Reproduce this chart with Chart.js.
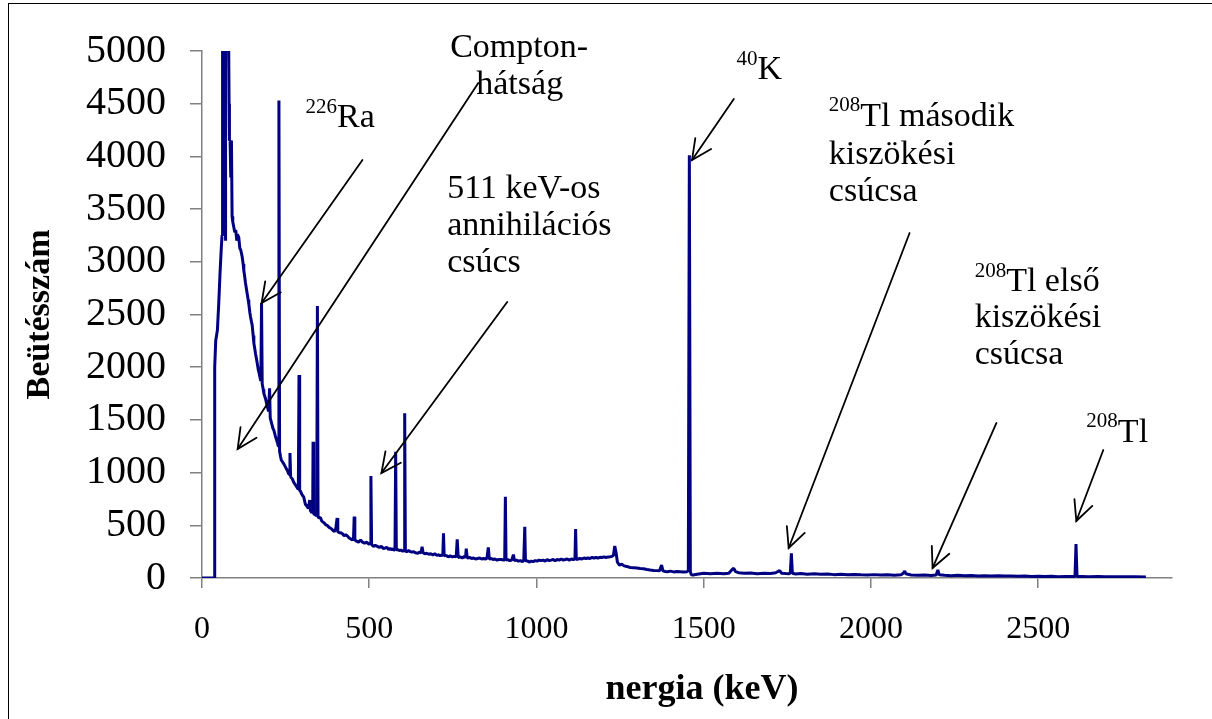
<!DOCTYPE html>
<html>
<head>
<meta charset="utf-8">
<script src="https://cdn.jsdelivr.net/npm/chart.js@4.4.0/dist/chart.umd.min.js"></script>
<style>
  html, body { margin: 0; padding: 0; background: #fff; }
  #wrap { width: 1212px; height: 719px; position: relative; }
</style>
</head>
<body>
<div id="wrap"><canvas id="spectrum"></canvas></div>
<script>
// Gamma spectrum: energy (keV) and counts
const energy = [
    0, 36, 38, 41, 46, 50, 54, 58, 60, 61,
    62, 63, 64, 65, 66, 67, 68, 69, 70, 71,
    72, 73, 74, 75, 76, 77, 78, 79, 80, 81,
    82, 84, 86, 88, 90, 92, 95, 98, 101, 104, 106,
    110, 113, 116, 120, 123, 125, 128, 130, 133, 135,
    138, 140, 143, 145, 148, 150, 153, 155, 160, 165,
    168, 171, 175, 176, 178, 180, 183, 185, 190, 195,
    199, 202, 204, 208, 212, 215, 219, 223, 226, 228,
    230, 232, 235, 237, 241, 245, 250, 255, 259, 262,
    263, 265, 270, 274, 278, 282, 286, 288, 290, 292,
    295, 299, 304, 309, 314, 318, 322, 324, 328, 331,
    332, 334, 338, 343, 345, 347, 350, 354, 358, 362,
    366, 370, 374, 380, 386, 392, 396, 400, 404, 406,
    410, 414, 420, 425, 430, 434, 440, 445, 450, 453,
    455, 457, 462, 468, 474, 480, 486, 492, 496, 500,
    503, 505, 507, 512, 518, 524, 530, 536, 542, 548,
    553, 558, 562, 566, 570, 574, 577, 579, 581, 585,
    590, 595, 600, 604, 606, 608, 612, 618, 623, 628,
    633, 638, 645, 650, 655, 658, 661, 666, 672, 678,
    684, 690, 696, 702, 708, 712, 716, 720, 722, 724,
    730, 736, 742, 748, 754, 760, 763, 766, 772, 778,
    784, 788, 790, 793, 800, 806, 812, 818, 824, 830,
    836, 842, 848, 852, 856, 859, 865, 870, 876, 882,
    888, 894, 902, 905, 907, 909, 914, 920, 926, 931,
    934, 940, 946, 952, 958, 962, 965, 967, 972, 978,
    984, 990, 996, 1002, 1008, 1014, 1020, 1026, 1032, 1038,
    1044, 1050, 1056, 1062, 1068, 1074, 1080, 1086, 1092, 1098,
    1104, 1110, 1115, 1117, 1119, 1124, 1130, 1136, 1142, 1148,
    1154, 1160, 1166, 1172, 1178, 1184, 1190, 1196, 1202, 1208,
    1214, 1220, 1226, 1230, 1234, 1238, 1242, 1248, 1255, 1262,
    1270, 1280, 1290, 1300, 1310, 1320, 1330, 1340, 1350, 1360,
    1368, 1374, 1378, 1385, 1392, 1400, 1410, 1420, 1430, 1440,
    1450, 1454, 1457, 1460, 1463, 1468, 1480, 1490, 1500, 1520,
    1540, 1560, 1575, 1585, 1590, 1595, 1605, 1620, 1640, 1660,
    1680, 1700, 1715, 1727, 1733, 1745, 1755, 1759, 1762, 1765,
    1775, 1790, 1810, 1830, 1850, 1870, 1890, 1910, 1930, 1950,
    1970, 1990, 2010, 2030, 2050, 2070, 2090, 2098, 2101, 2104,
    2120, 2140, 2160, 2180, 2195, 2200, 2204, 2220, 2240, 2260,
    2280, 2300, 2320, 2340, 2360, 2380, 2400, 2420, 2440, 2460,
    2480, 2500, 2520, 2540, 2560, 2580, 2600, 2610, 2613, 2616,
    2630, 2650, 2680, 2700, 2730, 2760, 2790, 2822
];
const counts = [
    0, 0, 2000, 2250, 2350, 2600, 2900, 3150, 3250, 5500,
    6000, 5800, 6000, 5500, 4600, 3900, 3250, 3500, 3200, 4800,
    6000, 5600, 6000, 5800, 6000, 5500, 6000, 5600, 5200, 4500,
    4150, 4150, 3800, 4150, 3430, 3380, 3330, 3280, 3300, 3200, 3260,
    3230, 3130, 3110, 3050, 2980, 2920, 2850, 2800, 2740, 2700,
    2640, 2600, 2520, 2480, 2430, 2400, 2300, 2230, 2130, 2040,
    1980, 1940, 1880, 1870, 2610, 1840, 1790, 1750, 1700, 1630,
    1580, 1800, 1520, 1470, 1420, 1400, 1350, 1310, 1280, 1250,
    4530, 1200, 1150, 1120, 1100, 1080, 1050, 1020, 990, 980,
    1186, 960, 940, 910, 890, 870, 850, 840, 1926, 830,
    820, 790, 770, 700, 680, 660, 740, 640, 620, 630,
    1293, 610, 600, 590, 2581, 580, 570, 575, 540, 530,
    520, 505, 500, 480, 470, 450, 440, 470, 569, 440,
    430, 430, 420, 400, 410, 400, 380, 370, 360, 380,
    582, 360, 350, 340, 360, 340, 330, 340, 330, 320,
    330, 968, 320, 300, 310, 300, 290, 300, 280, 285,
    290, 270, 280, 270, 275, 265, 270, 1198, 265, 270,
    260, 265, 255, 260, 1562, 255, 250, 260, 250, 245,
    250, 240, 235, 245, 240, 297, 240, 230, 235, 225,
    230, 220, 230, 215, 220, 210, 220, 212, 424, 210,
    215, 200, 210, 200, 205, 200, 367, 195, 200, 190,
    205, 195, 278, 190, 195, 185, 190, 180, 185, 190,
    180, 185, 180, 190, 291, 180, 185, 175, 180, 170,
    175, 175, 170, 175, 771, 170, 175, 165, 170, 222,
    165, 170, 160, 165, 155, 165, 487, 160, 165, 150,
    160, 155, 165, 160, 170, 165, 170, 160, 175, 165,
    170, 175, 165, 175, 170, 180, 170, 175, 180, 170,
    180, 175, 180, 465, 175, 180, 185, 180, 190, 185,
    190, 185, 195, 190, 195, 190, 196, 195, 200, 195,
    200, 202, 205, 215, 304, 240, 150, 123, 130, 115,
    110, 100, 98, 95, 90, 88, 80, 76, 72, 70,
    68, 123, 68, 62, 60, 65, 58, 62, 60, 58,
    60, 70, 4010, 60, 30, 28, 35, 40, 44, 40,
    45, 40, 45, 80, 92, 60, 50, 45, 48, 40,
    45, 42, 50, 70, 45, 42, 40, 50, 234, 45,
    38, 42, 35, 40, 35, 38, 32, 35, 30, 33,
    30, 28, 32, 28, 30, 26, 30, 50, 66, 40,
    28, 25, 28, 24, 28, 76, 30, 25, 22, 26,
    22, 24, 20, 22, 18, 22, 18, 20, 16, 18,
    15, 17, 14, 16, 13, 15, 14, 15, 322, 15,
    14, 12, 14, 12, 13, 11, 12, 10
];

const xTicks = [0, 500, 1000, 1500, 2000, 2500];
const yTicks = [0, 500, 1000, 1500, 2000, 2500, 3000, 3500, 4000, 4500, 5000];
const xTitle = 'nergia (keV)';
const yTitle = 'Beütésszám';

// Annotation texts: [keV, counts, superscript, text]
const notes = [
    [309.6, 4364, '226', 'Ra'],
    [742, 5028, '', 'Compton-'],
    [820, 4677, '', 'hátság'],
    [733, 3691, '', '511 keV-os'],
    [733, 3340, '', 'annihilációs'],
    [733, 2989, '', 'csúcs'],
    [1598, 4815, '40', 'K'],
    [1874, 4374, '208', 'Tl második'],
    [1874, 4013, '', 'kiszökési'],
    [1874, 3662, '', 'csúcsa'],
    [2310, 2808, '208', 'Tl első'],
    [2310, 2467, '', 'kiszökési'],
    [2310, 2116, '', 'csúcsa'],
    [2644, 1376, '208', 'Tl']
];

// Arrows: [from keV, from counts, to keV, to counts]
const arrows = [
    [479.7, 3966, 178.2, 2609],
    [826, 4696, 106.6, 1224],
    [912.5, 2619, 536.4, 996],
    [1590, 4545, 1465, 3966],
    [2115.5, 3273, 1754, 285],
    [2375.2, 1471, 2184.2, 95],
    [2694.6, 1214, 2614, 541]
];

const serif = "'Liberation Serif', 'Times New Roman', serif";

// White background and the outer frame
const frame = {
    id: 'frame',
    beforeDraw(chart) {
        const ctx = chart.ctx;
        ctx.save();
        ctx.fillStyle = '#fff';
        ctx.fillRect(0, 0, chart.width, chart.height);
        ctx.strokeStyle = '#000';
        ctx.lineWidth = 1;
        ctx.strokeRect(8.5, 3.5, 1300, 800);
        ctx.restore();
    }
};

// Arrows, labels and the x title, positioned through the scales
const annotate = {
    id: 'annotate',
    afterDatasetsDraw(chart) {
        const { ctx, scales: { x, y } } = chart;
        ctx.save();
        ctx.strokeStyle = '#000';
        ctx.lineWidth = 1.8;
        ctx.lineCap = 'round';
        arrows.forEach(a => {
            const x1 = x.getPixelForValue(a[0]), y1 = y.getPixelForValue(a[1]);
            const x2 = x.getPixelForValue(a[2]), y2 = y.getPixelForValue(a[3]);
            ctx.beginPath();
            ctx.moveTo(x1, y1);
            ctx.lineTo(x2, y2);
            ctx.stroke();
            const ang = Math.atan2(y2 - y1, x2 - x1);
            const len = 22, spread = 0.45;
            ctx.beginPath();
            ctx.moveTo(x2 - len * Math.cos(ang - spread), y2 - len * Math.sin(ang - spread));
            ctx.lineTo(x2, y2);
            ctx.lineTo(x2 - len * Math.cos(ang + spread), y2 - len * Math.sin(ang + spread));
            ctx.stroke();
        });

        ctx.fillStyle = '#000';
        ctx.textBaseline = 'middle';
        ctx.textAlign = 'left';
        notes.forEach(n => {
            let px = x.getPixelForValue(n[0]);
            const py = y.getPixelForValue(n[1]);
            if (n[2]) {
                ctx.font = '21px ' + serif;
                ctx.fillText(n[2], px, py - 11);
                px += ctx.measureText(n[2]).width;
            }
            ctx.font = '34px ' + serif;
            ctx.fillText(n[3], px, py);
        });

        // axis title sits a little right of the plot centre in the original
        ctx.textAlign = 'center';
        ctx.font = 'bold 36px ' + serif;
        ctx.fillText(xTitle, x.getPixelForValue(1495), y.bottom + 112);
        ctx.restore();
    }
};

const points = energy.map((e, i) => ({ x: e, y: counts[i] }));

new Chart(document.getElementById('spectrum'), {
    type: 'line',
    data: {
        datasets: [{
            data: points,
            borderColor: '#000080',
            borderWidth: 3,
            borderJoinStyle: 'bevel',
            pointRadius: 0,
            tension: 0,
            fill: false
        }]
    },
    options: {
        responsive: true,
        maintainAspectRatio: false,
        animation: false,
        layout: { padding: { left: 0, top: 51, right: 40, bottom: 0 } },
        plugins: {
            legend: { display: false },
            tooltip: { enabled: false }
        },
        scales: {
            x: {
                type: 'linear',
                min: 0,
                max: 2900,
                afterBuildTicks: s => { s.ticks = xTicks.map(v => ({ value: v })); },
                afterFit: s => { s.height = 141; },
                grid: { drawOnChartArea: false, drawTicks: true, tickLength: 10, color: '#808080', lineWidth: 1.5 },
                border: { color: '#808080', width: 1.5 },
                ticks: {
                    font: { family: serif, size: 32 },
                    color: '#000',
                    padding: 22,
                    maxRotation: 0,
                    callback: v => String(v)
                },
                title: { display: false }
            },
            y: {
                min: 0,
                max: 5000,
                afterBuildTicks: s => { s.ticks = yTicks.map(v => ({ value: v })); },
                afterFit: s => { s.width = 202; },
                grid: { drawOnChartArea: false, drawTicks: true, tickLength: 12, color: '#808080', lineWidth: 1.5 },
                border: { color: '#808080', width: 1.5 },
                ticks: {
                    font: { family: serif, size: 40 },
                    color: '#000',
                    padding: 24,
                    callback: v => String(v)
                },
                title: {
                    display: true,
                    text: yTitle,
                    color: '#000',
                    font: { family: serif, size: 34, weight: 'bold' },
                    padding: { top: 20, bottom: 0 }
                }
            }
        }
    },
    plugins: [frame, annotate]
});
</script>
</body>
</html>
